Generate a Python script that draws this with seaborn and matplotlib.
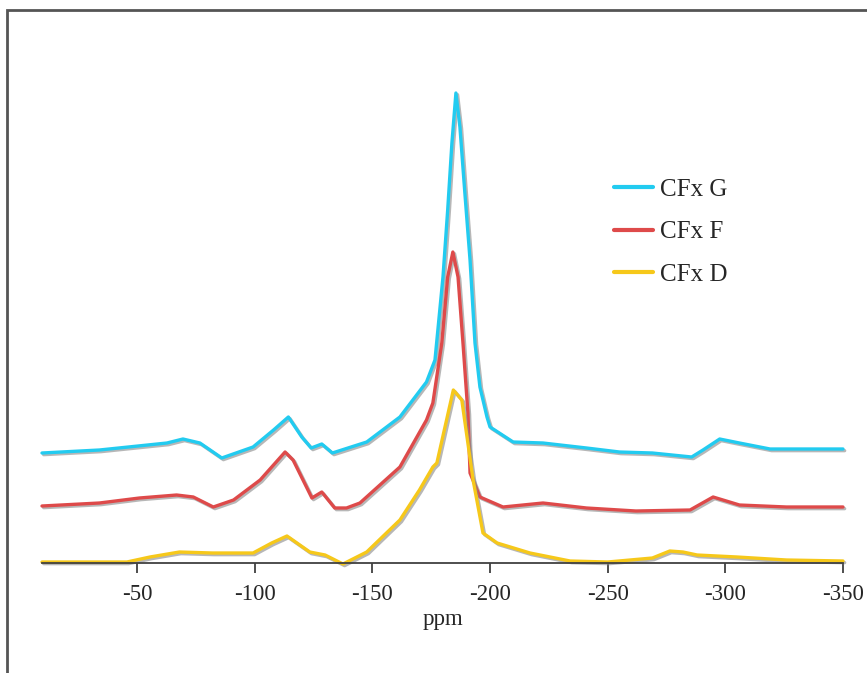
import pandas as pd
import matplotlib.pyplot as plt
import matplotlib.patheffects as pe
import seaborn as sns

# -----------------------------
# Data (intensity in arbitrary units)
# -----------------------------
g_ppm = [-9.6, -34, -62.7, -69.5, -76.7, -86, -99.3, -108, -114.3, -120, -124,
         -128.5, -133, -147.6, -161.7, -173, -176.6, -180, -182, -183.8, -185.5,
         -187.2, -189.3, -191.5, -193.6, -195.7, -198.7, -200, -209.8, -222.5,
         -241, -255, -269, -285.7, -290.5, -297.6, -306, -319, -350]
g_int = [110, 113, 120, 124, 120, 105, 116, 133, 146, 126, 115,
         119, 110, 121, 146, 181, 203, 286, 353, 420, 470,
         436, 370, 303, 220, 176, 146, 136, 121, 120,
         115, 111, 110, 106, 113, 124, 120, 114, 114]

f_ppm = [-9.6, -34, -51, -66.8, -73.9, -82.4, -91, -102.3, -112.9, -116.3, -124.3,
         -128.5, -134, -139, -144.7, -161.7, -173, -175.7, -179.5, -182, -184.2,
         -186.4, -188.5, -190.6, -191.5, -195.7, -205.5, -222.5, -241, -262, -285,
         -294.8, -306, -326, -350]
f_int = [57, 60, 65, 68, 66, 56, 63, 83, 111, 103, 65,
         71, 55, 55, 60, 96, 143, 160, 220, 286, 311,
         286, 220, 150, 90, 66, 56, 60, 55, 52, 53,
         66, 58, 56, 56]

d_ppm = [-9.6, -45.7, -55.5, -68, -82, -99.3, -107.2, -113.7, -123.4, -129.9, -137.5,
         -147.6, -161.7, -170, -175.7, -177.4, -184.4, -188, -192.8, -197, -203,
         -217, -234, -250, -269, -276.4, -282, -288, -305, -326, -350]
d_int = [1, 1, 6, 11, 10, 10, 20, 27, 11, 8, -1,
         11, 43, 73, 96, 100, 173, 163, 83, 30, 20,
         10, 2, 1, 5, 12, 11, 8, 6, 3, 2]

series = ["CFx G", "CFx F", "CFx D"]
colors = ["#22CBF0", "#DE4A4A", "#F6C81A"]
ticks = [-50, -100, -150, -200, -250, -300, -350]

df = pd.concat([
    pd.DataFrame({"ppm": g_ppm, "intensity": g_int, "sample": "CFx G"}),
    pd.DataFrame({"ppm": f_ppm, "intensity": f_int, "sample": "CFx F"}),
    pd.DataFrame({"ppm": d_ppm, "intensity": d_int, "sample": "CFx D"}),
], ignore_index=True)

# -----------------------------
# Plot
# -----------------------------
sns.set_style("white")
plt.rcParams["font.family"] = ["Liberation Serif", "DejaVu Serif"]

fig = plt.figure(figsize=(8.67, 6.73), dpi=100)
ax = fig.add_axes([42 / 867, 110 / 673, 801 / 867, 533 / 673])

shadow = [pe.SimpleLineShadow(offset=(1.2, -1.2), shadow_color="#888888", alpha=0.6),
          pe.Normal()]

sns.lineplot(data=df, x="ppm", y="intensity", hue="sample", hue_order=series,
             palette=colors, sort=False, estimator=None, linewidth=2.4,
             legend=False, ax=ax)
for line in ax.get_lines():
    line.set_path_effects(shadow)
    line.set_clip_on(False)

ax.set_xlim(-9.6, -350)
ax.set_ylim(0, 533)
ax.set_xticks(ticks)
ax.set_xticklabels([str(t) for t in ticks])
ax.set_yticks([])
ax.set_xlabel("ppm", fontsize=16.5, labelpad=3)
ax.set_ylabel("")
ax.tick_params(axis="x", bottom=True, direction="out", length=7, width=1.3,
               color="#404040", labelsize=16.5, pad=8)

for side in ["left", "top", "right"]:
    ax.spines[side].set_visible(False)
ax.spines["bottom"].set_color("#404040")
ax.spines["bottom"].set_linewidth(1.3)

handles = [plt.Line2D([], [], color=c, linewidth=3) for c in colors]
ax.legend(handles, series, loc="center left", bbox_to_anchor=(0.714, 0.621),
          frameon=False, fontsize=18, labelspacing=0.8, handlelength=1.55,
          handletextpad=0.3, borderpad=0, borderaxespad=0)

# chart-area frame (only top and left visible in the crop)
fig.add_artist(plt.Rectangle((7 / 867, -0.1), 1.2, 1.1 - 10 / 673,
                             transform=fig.transFigure, fill=False,
                             edgecolor="#555555", linewidth=2.0))

plt.savefig("out.png", dpi=100)
plt.close()
